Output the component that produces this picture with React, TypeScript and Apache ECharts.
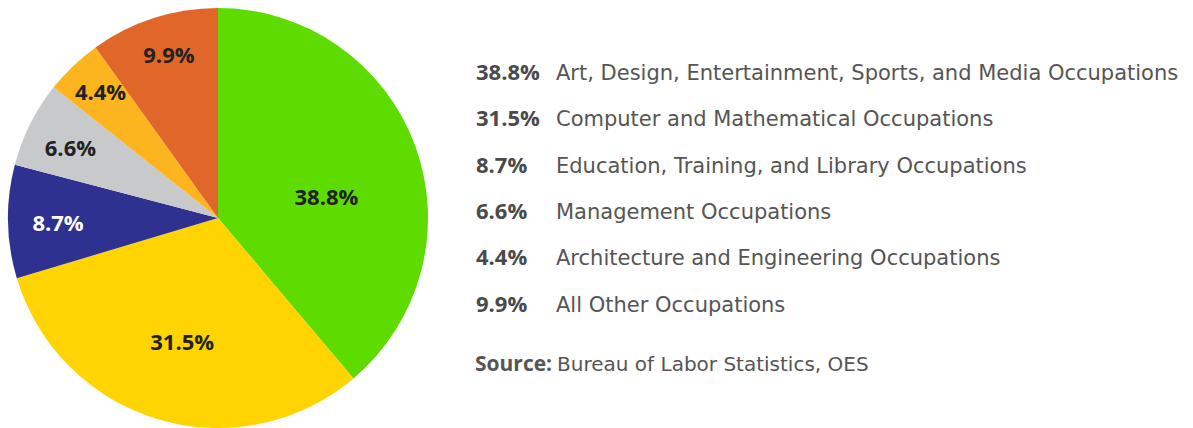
import React, { useEffect, useRef } from "react";
import * as echarts from "echarts";

const categories = [
  "Art, Design, Entertainment, Sports, and Media Occupations",
  "Computer and Mathematical Occupations",
  "Education, Training, and Library Occupations",
  "Management Occupations",
  "Architecture and Engineering Occupations",
  "All Other Occupations",
];
const values = [38.8, 31.5, 8.7, 6.6, 4.4, 9.9];
const colors = ["#5EDC00", "#FFD400", "#2E3190", "#C8C9CB", "#FDB51F", "#E0662A"];
const labelColors = ["#222222", "#222222", "#FFFFFF", "#222222", "#222222", "#222222"];
// label nudges (px) from the default inside label position
const labelNudge: [number, number][] = [
  [7, 15],
  [-5, 19],
  [-52, 2],
  [-51, -23],
  [-43, -49],
  [-16, -61],
];
const sourceBold = "Source:";
const sourceText = "Bureau of Labor Statistics, OES";

const BOLD_FONT = "'Open Sans', Roboto, sans-serif";
const TEXT_FONT = "'DejaVu Sans', 'Open Sans', sans-serif";

export default function App() {
  const ref = useRef<HTMLDivElement>(null);
  useEffect(() => {
    document.body.style.margin = "0";
    document.body.style.overflow = "hidden";
    const chart = echarts.init(ref.current!, null, { renderer: "svg" });
    const pctOf: Record<string, string> = {};
    categories.forEach((c, i) => (pctOf[c] = values[i].toFixed(1) + "%"));
    chart.setOption({
      animation: false,
      legend: {
        orient: "vertical",
        left: 466,
        top: 55,
        icon: "none",
        itemWidth: 0,
        itemHeight: 0,
        itemGap: 22.8,
        selectedMode: false,
        formatter: (name: string) => `{p|${pctOf[name]}}{n|${name}}`,
        textStyle: {
          fontFamily: TEXT_FONT,
          rich: {
            p: { width: 80, fontSize: 22, fontWeight: "bold", color: "#4A4A4A", fontFamily: BOLD_FONT, padding: [0, 0, 4, 0] },
            n: { fontSize: 21, color: "#555555", fontFamily: TEXT_FONT },
          },
        },
        data: categories,
      },
      graphic: [
        {
          type: "text",
          left: 475,
          top: 352,
          style: {
            text: `{b|${sourceBold}}{r|${sourceText}}`,
            rich: {
              b: { fontSize: 21, fontWeight: "bold", fill: "#555555", fontFamily: BOLD_FONT, padding: [0, 5, 3, 0] },
              r: { fontSize: 20, fill: "#555555", fontFamily: TEXT_FONT },
            },
          },
        },
      ],
      series: [
        {
          type: "pie",
          center: [218, 218],
          radius: [0, 210],
          startAngle: 90,
          clockwise: true,
          avoidLabelOverlap: false,
          label: {
            show: true,
            position: "inside",
            formatter: (p: any) => values[p.dataIndex].toFixed(1) + "%",
            fontFamily: BOLD_FONT,
            fontSize: 22,
            fontWeight: "bold",
          },
          labelLine: { show: false },
          labelLayout: (p: any) => ({ dx: labelNudge[p.dataIndex][0], dy: labelNudge[p.dataIndex][1] }),
          emphasis: { disabled: true },
          itemStyle: { borderWidth: 0 },
          data: categories.map((c, i) => ({
            name: c,
            value: values[i],
            itemStyle: { color: colors[i] },
            label: { color: labelColors[i] },
          })),
        },
      ],
    });
    return () => chart.dispose();
  }, []);
  return <div ref={ref} style={{ width: 1193, height: 428 }} />;
}
